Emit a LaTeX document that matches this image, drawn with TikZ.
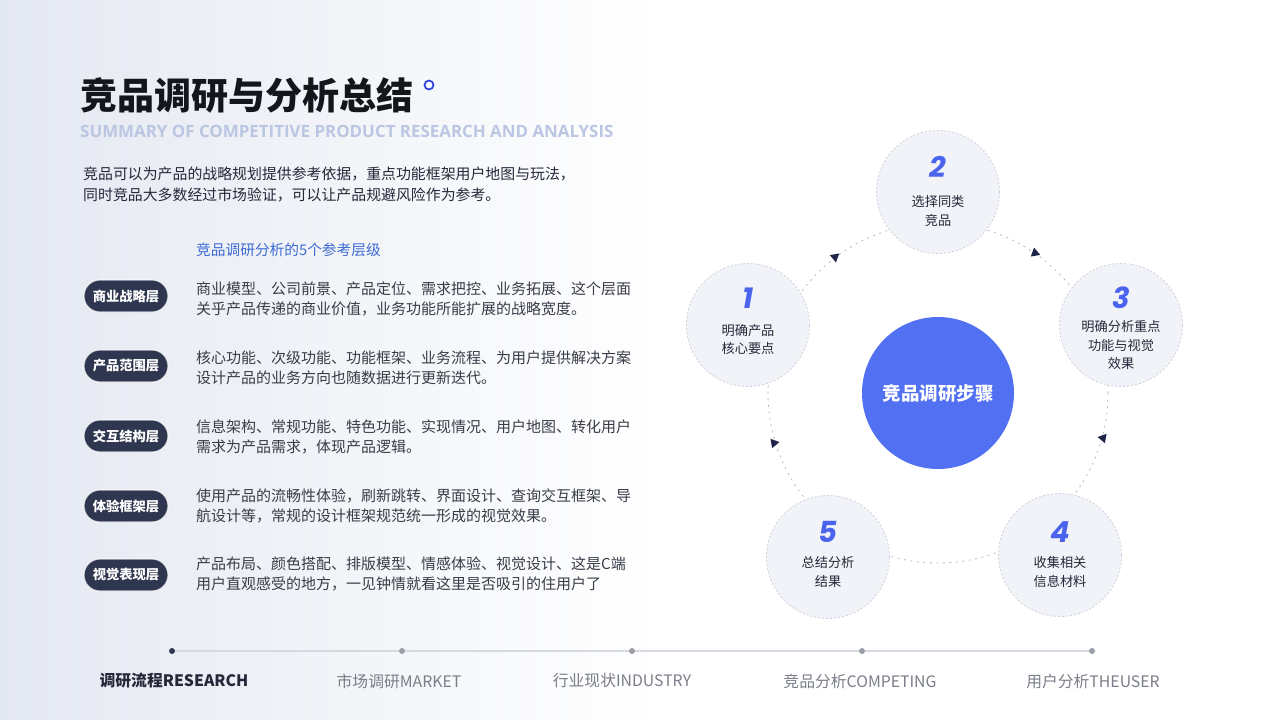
\documentclass[tikz,border=0pt]{standalone}
\usepackage{fontspec}
\setmainfont{Noto Sans CJK SC}
\newfontfamily\numfont{Poppins}
\newfontfamily\latinb{Open Sans}
\usetikzlibrary{shapes.geometric}
\definecolor{bgl}{HTML}{E4E8F1}
\definecolor{titlec}{HTML}{15161C}
\definecolor{accent}{HTML}{2B3FE0}
\definecolor{subc}{HTML}{BAC6E2}
\definecolor{textc}{HTML}{26283A}
\definecolor{descc}{HTML}{3A3C48}
\definecolor{blueh}{HTML}{3D6BD4}
\definecolor{navy}{HTML}{2F3750}
\definecolor{mainblue}{HTML}{5270F2}
\definecolor{numblue}{HTML}{4A64EE}
\definecolor{cfill}{HTML}{F1F3F8}
\definecolor{cline}{HTML}{CDD1DB}
\definecolor{ringc}{HTML}{B5BAC6}
\definecolor{arrowc}{HTML}{1E2548}
\definecolor{tline}{HTML}{D6D9DF}
\definecolor{tdot}{HTML}{9A9EA8}
\definecolor{tgray}{HTML}{7A7E88}
\tikzset{
  pill/.style={rounded corners=15.9pt, fill=navy, draw=white, draw opacity=0.7, line width=1.2pt,
    text=white, minimum width=84pt, minimum height=32pt,
    font=\bfseries\fontsize{13.3}{15}\selectfont, inner sep=0pt},
  desc/.style={anchor=west, align=left, text=descc, inner sep=0pt, font=\fontsize{15}{20.5}\selectfont},
  stepc/.style={circle, fill=cfill, draw=cline, dash pattern=on 2pt off 2pt, line width=0.8pt,
    minimum size=123pt, inner sep=0pt},
  num/.style={text=numblue, font=\numfont\bfseries\itshape\fontsize{29}{30}\selectfont, inner sep=0pt},
  steptext/.style={align=center, text=textc, font=\fontsize{13.2}{18.3}\selectfont, inner sep=0pt},
  tri/.style={regular polygon, regular polygon sides=3, fill=arrowc, minimum size=11pt, inner sep=0pt},
  tdotst/.style={circle, fill=tdot, minimum size=6pt, inner sep=0pt},
  tlab/.style={text=tgray, font=\fontsize{15.8}{17}\selectfont, inner sep=0pt}
}
\begin{document}
\begin{tikzpicture}[x=1pt,y=-1pt]
\useasboundingbox (0,0) rectangle (1280,720);
\fill[white] (0,0) rectangle (1280,720);
\fill[left color=bgl, right color=white] (0,0) rectangle (660,720);
% title
\node[anchor=west, inner sep=0pt, text=titlec, font=\bfseries\fontsize{37}{40}\selectfont] (title) at (80,95) {竞品调研与分析总结};
\node[circle, draw=accent, line width=1.7pt, minimum size=9pt, inner sep=0pt] (tdot0) at (429,85) {};
\node[anchor=west, inner sep=0pt, text=subc, font=\latinb\bfseries\fontsize{16.9}{18}\selectfont] (sub) at (80,131) {SUMMARY OF COMPETITIVE PRODUCT RESEARCH AND ANALYSIS};
\node[anchor=west, align=left, inner sep=0pt, text=textc, font=\fontsize{14.9}{21}\selectfont] (intro) at (83,184.5)
  {竞品可以为产品的战略规划提供参考依据，重点功能框架用户地图与玩法，\\同时竞品大多数经过市场验证，可以让产品规避风险作为参考。};
\node[anchor=west, inner sep=0pt, text=blueh, font=\fontsize{14.7}{16}\selectfont] (lvl) at (196,250) {竞品调研分析的5个参考层级};
% layers
\node[pill] (p1) at (126,296) {商业战略层};
\node[pill] (p2) at (126,366) {产品范围层};
\node[pill] (p3) at (126,436) {交互结构层};
\node[pill] (p4) at (126,506) {体验框架层};
\node[pill] (p5) at (126,575) {视觉表现层};
\node[desc] (d1) at (196,299) {商业模型、公司前景、产品定位、需求把控、业务拓展、这个层面\\关乎产品传递的商业价值，业务功能所能扩展的战略宽度。};
\node[desc] (d2) at (196,368) {核心功能、次级功能、功能框架、业务流程、为用户提供解决方案\\设计产品的业务方向也随数据进行更新迭代。};
\node[desc] (d3) at (196,437) {信息架构、常规功能、特色功能、实现情况、用户地图、转化用户\\需求为产品需求，体现产品逻辑。};
\node[desc] (d4) at (196,506) {使用产品的流畅性体验，刷新跳转、界面设计、查询交互框架、导\\航设计等，常规的设计框架规范统一形成的视觉效果。};
\node[desc] (d5) at (196,574) {产品布局、颜色搭配、排版模型、情感体验、视觉设计、这是C端\\用户直观感受的地方，一见钟情就看这里是否吸引的住用户了};
% cycle
\coordinate (cc) at (938,393);
\draw[ringc, line width=0.8pt, dash pattern=on 2pt off 4.5pt] (cc) circle (170pt);
\node[tri, shape border rotate=190] (a12) at (835,257) {};
\node[tri, shape border rotate=10] (a23) at (1035,253) {};
\node[tri, shape border rotate=200] (a34) at (1103,438) {};
\node[tri, shape border rotate=-80] (a51) at (774,443) {};
\node[circle, fill=mainblue, minimum size=152pt, inner sep=0pt, text=white, font=\bfseries\fontsize{18.5}{20}\selectfont] (center) at (cc) {竞品调研步骤};
\node[stepc] (s1) at (748,325) {};
\node[stepc] (s2) at (938,192) {};
\node[stepc] (s3) at (1121,325) {};
\node[stepc] (s4) at (1060,555) {};
\node[stepc] (s5) at (828,557) {};
\node[num] (n1) at (748,298) {1};
\node[num] (n2) at (938,167) {2};
\node[num] (n3) at (1121,298) {3};
\node[num] (n4) at (1060,532) {4};
\node[num] (n5) at (828,532) {5};
\node[steptext] (t1) at (748,339.5) {明确产品\\核心要点};
\node[steptext] (t2) at (938,211) {选择同类\\竞品};
\node[steptext] (t3) at (1121,345) {明确分析重点\\功能与视觉\\效果};
\node[steptext] (t4) at (1060,572) {收集相关\\信息材料};
\node[steptext] (t5) at (828,572) {总结分析\\结果};
% timeline
\node[circle, fill=navy, minimum size=6pt, inner sep=0pt] (k1) at (172,651) {};
\node[tdotst] (k2) at (402,651) {};
\node[tdotst] (k3) at (632,651) {};
\node[tdotst] (k4) at (862,651) {};
\node[tdotst] (k5) at (1092,651) {};
\draw[tline, line width=1.2pt] (k1) -- (k2);
\draw[tline, line width=1.2pt] (k2) -- (k3);
\draw[tline, line width=1.2pt] (k3) -- (k4);
\draw[tline, line width=1.2pt] (k4) -- (k5);
\node[tlab, text=textc, font=\bfseries\fontsize{15.8}{17}\selectfont] (l1) at (174,681) {调研流程RESEARCH};
\node[tlab] (l2) at (399,681) {市场调研MARKET};
\node[tlab] (l3) at (622,681) {行业现状INDUSTRY};
\node[tlab] (l4) at (860,681) {竞品分析COMPETING};
\node[tlab] (l5) at (1093,681) {用户分析THEUSER};
\end{tikzpicture}
\end{document}
